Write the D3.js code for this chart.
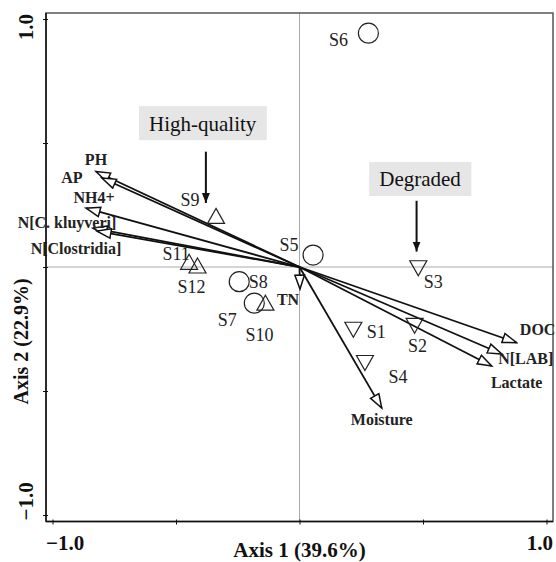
<!DOCTYPE html>
<html>
<head>
<meta charset="utf-8">
<script src="https://cdn.jsdelivr.net/npm/d3@7/dist/d3.min.js"></script>
<style>
  body { margin: 0; background: #fff; }
  svg { display: block; font-family: "Liberation Serif", "Times New Roman", serif; }
</style>
</head>
<body>
<svg id="chart" width="556" height="562"></svg>
<script>
// sample scores (axis 1, axis 2)
const sampleNames = ["S1", "S2", "S3", "S4", "S5", "S6", "S7", "S8", "S9", "S10", "S11", "S12"];
const sampleX = [0.218, 0.466, 0.481, 0.265, 0.055, 0.279, -0.183, -0.244, -0.338, -0.138, -0.447, -0.413];
const sampleY = [-0.253, -0.237, -0.005, -0.387, 0.048, 0.943, -0.146, -0.059, 0.206, -0.144, 0.021, 0.006];
const sampleGroup = ["down", "down", "down", "down", "circle", "circle", "circle", "circle", "up", "up", "up", "up"];

// explanatory variables (arrow tips)
const vectorNames = ["PH", "AP", "NH4+", "N[C. kluyveri]", "N[Clostridia]", "DOC", "N[LAB]", "Lactate", "TN", "Moisture"];
const vectorX = [-0.824, -0.8, -0.864, -0.836, -0.82, 0.879, 0.819, 0.778, 0.002, 0.333];
const vectorY = [0.385, 0.359, 0.237, 0.157, 0.145, -0.305, -0.351, -0.399, -0.089, -0.569];

const axisTicks = [-1, -0.5, 0, 0.5, 1];
const axisTitles = ["Axis 1 (39.6%)", "Axis 2 (22.9%)"];

// group notes: box centre and arrow from/to, in axis units
const noteText = ["High-quality", "Degraded"];
const noteX = [-0.392, 0.488];
const noteY = [0.58, 0.355];
const noteArrowX = [-0.379, 0.474];
const noteArrowY0 = [0.465, 0.267];
const noteArrowY1 = [0.258, 0.062];

// label nudges in px (layout only)
const sampleLabelOffset = {
  S1: [23, 2], S2: [3, 20], S3: [15, 13], S4: [33, 14], S5: [-24, -10], S6: [-30, 7],
  S7: [-27, 16], S8: [19, 0], S9: [-26, -16], S10: [-6, 32], S11: [-13, -8], S12: [-6, 21]
};
const vectorLabelOffset = {
  "PH": [0, -12], "AP": [-30, -1], "NH4+": [8, -11], "N[C. kluyveri]": [-26, -6],
  "N[Clostridia]": [-21, 17], "DOC": [21, -13], "N[LAB]": [24, 4], "Lactate": [25, 16],
  "TN": [-12, 10], "Moisture": [0, 11]
};

const frame = { left: 46, right: 553, top: 13, bottom: 521.5 };

const svg = d3.select("#chart");

const x = d3.scaleLinear().domain([-1, 1]).range([52.5, 546.5]);
const y = d3.scaleLinear().domain([-1, 1]).range([515, 19]);

const defs = svg.append("defs");
defs
  .append("marker")
  .attr("id", "open-head")
  .attr("viewBox", "-1 -6 17 12")
  .attr("refX", 14)
  .attr("refY", 0)
  .attr("markerWidth", 17)
  .attr("markerHeight", 12)
  .attr("markerUnits", "userSpaceOnUse")
  .attr("orient", "auto")
  .append("path")
  .attr("d", "M0,-4.8L14,0L0,4.8Z")
  .attr("fill", "#fff")
  .attr("stroke", "#111")
  .attr("stroke-width", 1.5);

defs
  .append("marker")
  .attr("id", "solid-head")
  .attr("viewBox", "0 -5 11 10")
  .attr("refX", 10)
  .attr("refY", 0)
  .attr("markerWidth", 11)
  .attr("markerHeight", 10)
  .attr("markerUnits", "userSpaceOnUse")
  .attr("orient", "auto")
  .append("path")
  .attr("d", "M0,-4L10,0L0,4Z")
  .attr("fill", "#111");

// zero lines
svg
  .append("line")
  .attr("x1", x(0)).attr("x2", x(0))
  .attr("y1", frame.top).attr("y2", frame.bottom)
  .attr("stroke", "#aaa").attr("stroke-width", 1);
svg
  .append("line")
  .attr("x1", frame.left).attr("x2", frame.right)
  .attr("y1", y(0)).attr("y2", y(0))
  .attr("stroke", "#aaa").attr("stroke-width", 1);

// frame
svg
  .append("rect")
  .attr("x", frame.left)
  .attr("y", frame.top)
  .attr("width", frame.right - frame.left)
  .attr("height", frame.bottom - frame.top)
  .attr("fill", "none")
  .attr("stroke", "#555")
  .attr("stroke-width", 1.5);

// group note boxes + arrows
noteText.forEach((t, i) => {
  const g = svg.append("g");
  const box = g.append("rect").attr("fill", "#e6e6e6");
  const txt = g
    .append("text")
    .attr("x", x(noteX[i]))
    .attr("y", y(noteY[i]) + 7.5)
    .attr("text-anchor", "middle")
    .style("font-size", "21px")
    .attr("fill", "#111")
    .text(t);
  const bb = txt.node().getBBox();
  box
    .attr("x", bb.x - 10)
    .attr("y", y(noteY[i]) - 17)
    .attr("width", bb.width + 20)
    .attr("height", 34);
  svg
    .append("line")
    .attr("x1", x(noteArrowX[i])).attr("x2", x(noteArrowX[i]))
    .attr("y1", y(noteArrowY0[i])).attr("y2", y(noteArrowY1[i]))
    .attr("stroke", "#111")
    .attr("stroke-width", 2)
    .attr("marker-end", "url(#solid-head)");
});

// vectors
const vectors = vectorNames.map((n, i) => ({ name: n, vx: vectorX[i], vy: vectorY[i] }));
svg
  .selectAll(".vec")
  .data(vectors)
  .enter()
  .append("line")
  .attr("class", "vec")
  .attr("x1", x(0))
  .attr("y1", y(0))
  .attr("x2", (d) => x(d.vx))
  .attr("y2", (d) => y(d.vy))
  .attr("stroke", "#111")
  .attr("stroke-width", 1.8)
  .attr("marker-end", "url(#open-head)");

svg
  .selectAll(".vec-label")
  .data(vectors)
  .enter()
  .append("text")
  .attr("class", "vec-label")
  .attr("x", (d) => x(d.vx) + vectorLabelOffset[d.name][0])
  .attr("y", (d) => y(d.vy) + vectorLabelOffset[d.name][1])
  .attr("dy", "0.35em")
  .attr("text-anchor", "middle")
  .style("font-size", "16px")
  .style("font-weight", "bold")
  .attr("fill", "#222")
  .text((d) => d.name);

// samples
const samples = sampleNames.map((n, i) => ({ name: n, sx: sampleX[i], sy: sampleY[i], group: sampleGroup[i] }));
const tri = (d) => d === "up" ? "M0,-7.5L8.5,7.5L-8.5,7.5Z" : "M0,7.5L8.5,-7.5L-8.5,-7.5Z";

svg
  .selectAll(".sample")
  .data(samples)
  .enter()
  .append("path")
  .attr("class", "sample")
  .attr("transform", (d) => `translate(${x(d.sx)},${y(d.sy)})`)
  .attr("d", (d) => d.group === "circle" ? d3.symbol(d3.symbolCircle, Math.PI * 100)() : tri(d.group))
  .attr("fill", "none")
  .attr("stroke", "#222")
  .attr("stroke-width", 1.2);

svg
  .selectAll(".sample-label")
  .data(samples)
  .enter()
  .append("text")
  .attr("class", "sample-label")
  .attr("x", (d) => x(d.sx) + sampleLabelOffset[d.name][0])
  .attr("y", (d) => y(d.sy) + sampleLabelOffset[d.name][1])
  .attr("dy", "0.35em")
  .attr("text-anchor", "middle")
  .style("font-size", "18px")
  .attr("fill", "#222")
  .text((d) => d.name);

// axes
const xAxis = svg
  .append("g")
  .attr("transform", `translate(0,${frame.bottom})`)
  .call(d3.axisBottom(x).tickValues(axisTicks).tickSize(3).tickSizeOuter(0).tickFormat(""));
xAxis.select(".domain").remove();
xAxis.selectAll(".tick line").attr("y1", -2).attr("stroke", "#111");

const yAxis = svg
  .append("g")
  .attr("transform", `translate(${frame.left},0)`)
  .call(d3.axisLeft(y).tickValues(axisTicks).tickSize(3).tickSizeOuter(0).tickFormat(""));
yAxis.select(".domain").remove();
yAxis.selectAll(".tick line").attr("x1", 2).attr("stroke", "#111");

svg
  .append("line")
  .attr("x1", frame.left).attr("x2", frame.right)
  .attr("y1", frame.bottom).attr("y2", frame.bottom)
  .attr("stroke", "#111").attr("stroke-width", 1.5);
svg
  .append("line")
  .attr("x1", frame.left).attr("x2", frame.left)
  .attr("y1", frame.top).attr("y2", frame.bottom)
  .attr("stroke", "#111").attr("stroke-width", 1.5);

// tick labels, only the ends
const ends = [axisTicks[0], axisTicks[axisTicks.length - 1]];
svg
  .selectAll(".xlab")
  .data(ends)
  .enter()
  .append("text")
  .attr("class", "xlab")
  .attr("x", (d) => d < 0 ? frame.left : frame.right)
  .attr("y", 550)
  .attr("text-anchor", (d) => d < 0 ? "start" : "end")
  .style("font-size", "21px")
  .style("font-weight", "bold")
  .attr("fill", "#111")
  .text((d) => d3.format(".1f")(d));

svg
  .selectAll(".ylab")
  .data(ends)
  .enter()
  .append("text")
  .attr("class", "ylab")
  .attr("transform", (d) => `translate(33,${d < 0 ? frame.bottom - 1 : frame.top + 1}) rotate(-90)`)
  .attr("text-anchor", (d) => d < 0 ? "start" : "end")
  .style("font-size", "21px")
  .style("font-weight", "bold")
  .attr("fill", "#111")
  .text((d) => d3.format(".1f")(d));

svg
  .append("text")
  .attr("x", x(0))
  .attr("y", 557)
  .attr("text-anchor", "middle")
  .style("font-size", "21px")
  .style("font-weight", "bold")
  .attr("fill", "#111")
  .text(axisTitles[0]);

svg
  .append("text")
  .attr("transform", `translate(28,${y(-0.3)}) rotate(-90)`)
  .attr("text-anchor", "middle")
  .style("font-size", "20px")
  .style("font-weight", "bold")
  .attr("fill", "#111")
  .text(axisTitles[1]);
</script>
</body>
</html>
